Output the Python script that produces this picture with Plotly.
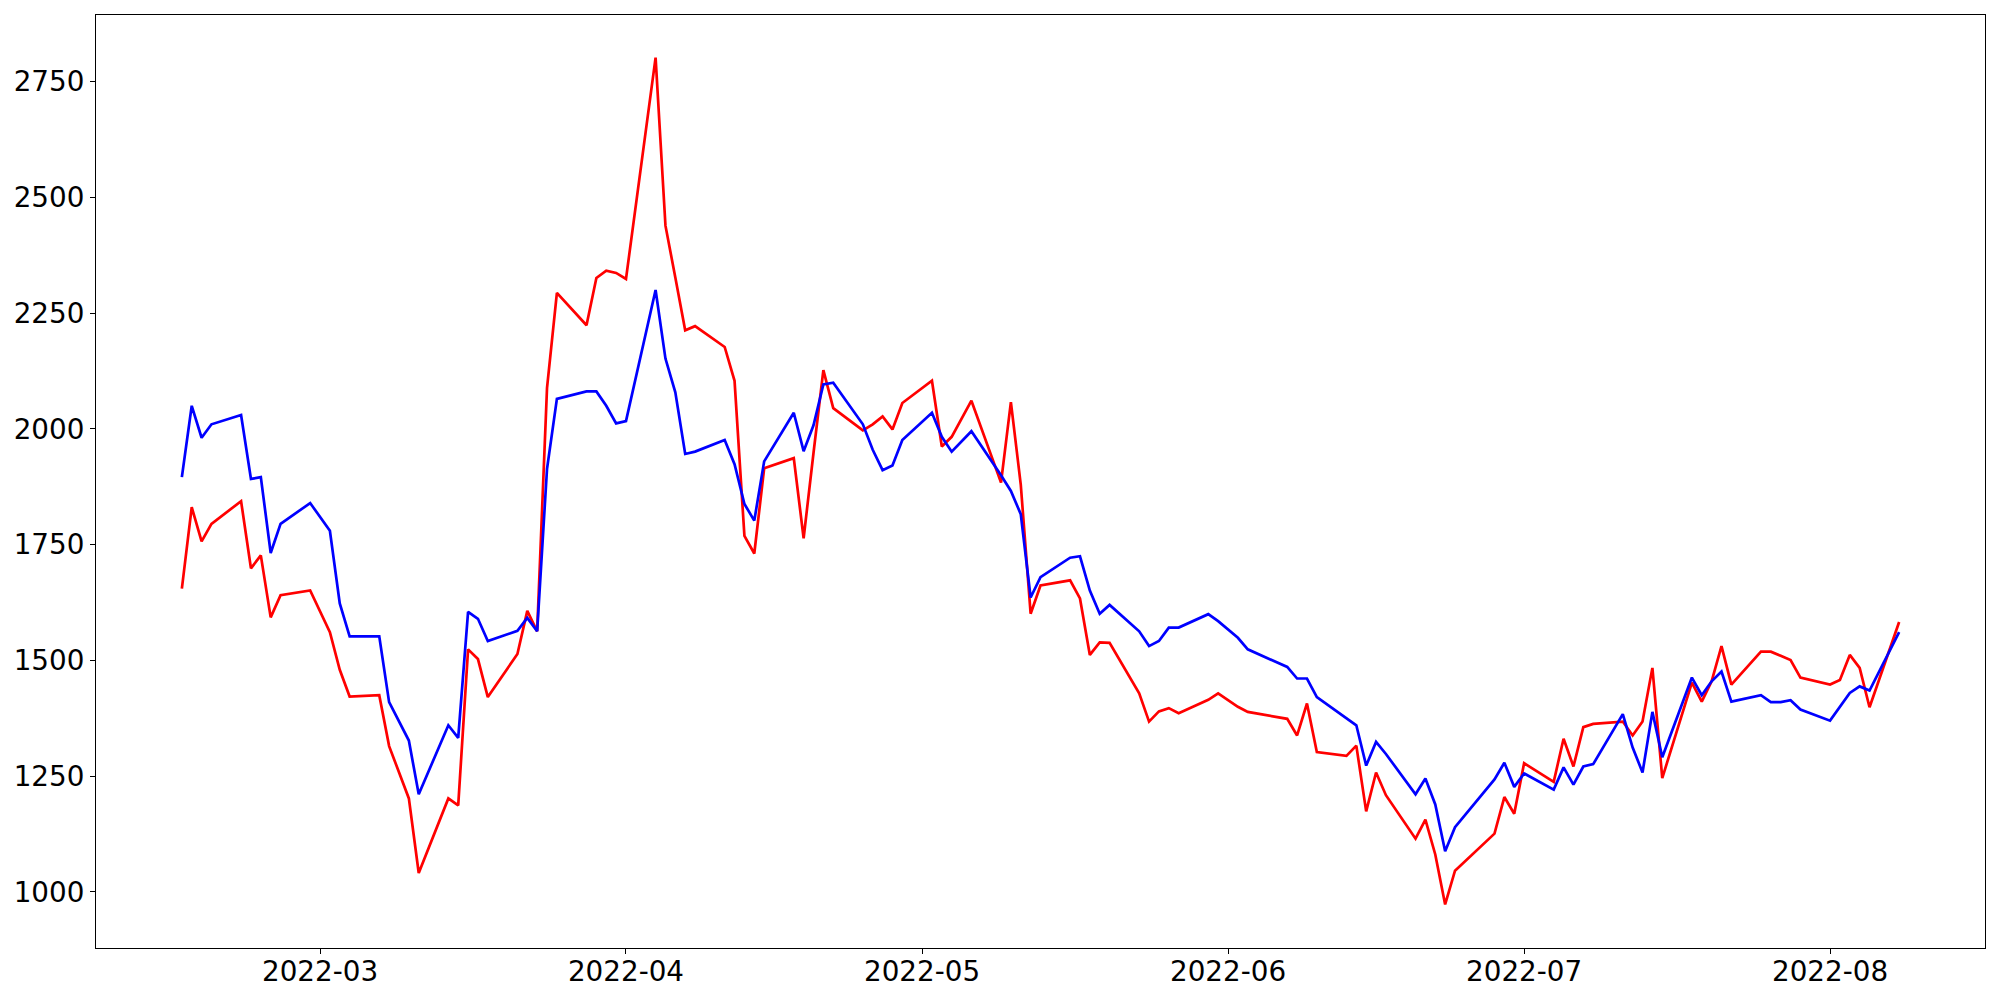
import plotly.graph_objects as go

dates = [
    "2022-02-15", "2022-02-16", "2022-02-17", "2022-02-18", "2022-02-21", "2022-02-22", "2022-02-23", "2022-02-24", "2022-02-25", "2022-02-28",
    "2022-03-02", "2022-03-03", "2022-03-04", "2022-03-07", "2022-03-08", "2022-03-10", "2022-03-11", "2022-03-14", "2022-03-15", "2022-03-16",
    "2022-03-17", "2022-03-18", "2022-03-21", "2022-03-22", "2022-03-23", "2022-03-24", "2022-03-25", "2022-03-28", "2022-03-29", "2022-03-30", "2022-03-31",
    "2022-04-01", "2022-04-04", "2022-04-05", "2022-04-06", "2022-04-07", "2022-04-08", "2022-04-11", "2022-04-12", "2022-04-13", "2022-04-14",
    "2022-04-15", "2022-04-18", "2022-04-19", "2022-04-20", "2022-04-21", "2022-04-22", "2022-04-25", "2022-04-26", "2022-04-27", "2022-04-28", "2022-04-29",
    "2022-05-02", "2022-05-03", "2022-05-04", "2022-05-06", "2022-05-09", "2022-05-10", "2022-05-11", "2022-05-12", "2022-05-13", "2022-05-16",
    "2022-05-17", "2022-05-18", "2022-05-19", "2022-05-20", "2022-05-23", "2022-05-24", "2022-05-25", "2022-05-26", "2022-05-27", "2022-05-30", "2022-05-31",
    "2022-06-02", "2022-06-03", "2022-06-07", "2022-06-08", "2022-06-09", "2022-06-10", "2022-06-13", "2022-06-14", "2022-06-15", "2022-06-16",
    "2022-06-17", "2022-06-20", "2022-06-21", "2022-06-22", "2022-06-23", "2022-06-24", "2022-06-28", "2022-06-29", "2022-06-30",
    "2022-07-01", "2022-07-04", "2022-07-05", "2022-07-06", "2022-07-07", "2022-07-08", "2022-07-11", "2022-07-12", "2022-07-13", "2022-07-14",
    "2022-07-15", "2022-07-18", "2022-07-19", "2022-07-20", "2022-07-21", "2022-07-22", "2022-07-25", "2022-07-26", "2022-07-27", "2022-07-28", "2022-07-29",
    "2022-08-01", "2022-08-02", "2022-08-03", "2022-08-04", "2022-08-05", "2022-08-08",
]

red_values = [
    1655, 1831, 1757, 1795, 1844, 1699, 1727, 1593, 1641, 1651,
    1561, 1480, 1422, 1425, 1315, 1202, 1041, 1202, 1187, 1524,
    1503, 1421, 1514, 1607, 1563, 2089, 2294, 2224, 2326, 2342, 2337,
    2324, 2802, 2439, 2327, 2213, 2222, 2177, 2104, 1769, 1731,
    1915, 1937, 1764, 1948, 2127, 2045, 1997, 2010, 2027, 1999, 2056,
    2104, 1962, 1983, 2061, 1884, 2058, 1880, 1601, 1662, 1673,
    1634, 1512, 1539, 1538, 1429, 1368, 1390, 1397, 1386, 1415, 1429,
    1400, 1389, 1374, 1338, 1407, 1302, 1294, 1316, 1174, 1258,
    1209, 1115, 1156, 1081, 973, 1046, 1126, 1205, 1169,
    1278, 1238, 1331, 1271, 1356, 1363, 1368, 1338, 1368, 1484,
    1246, 1452, 1411, 1455, 1531, 1448, 1519, 1519, 1510, 1501, 1463,
    1448, 1458, 1512, 1484, 1399, 1583,
]

blue_values = [
    1896, 2050, 1981, 2010, 2030, 1892, 1896, 1732, 1795, 1840,
    1780, 1623, 1552, 1552, 1410, 1327, 1211, 1360, 1333, 1605,
    1590, 1542, 1564, 1592, 1563, 1914, 2065, 2081, 2081, 2050, 2012,
    2017, 2300, 2152, 2079, 1946, 1951, 1976, 1924, 1838, 1802,
    1930, 2035, 1952, 2008, 2096, 2100, 2010, 1955, 1911, 1921, 1976,
    2035, 1983, 1951, 1995, 1900, 1866, 1816, 1636, 1680, 1722,
    1725, 1651, 1601, 1620, 1563, 1531, 1542, 1571, 1571, 1600, 1585,
    1549, 1524, 1486, 1461, 1461, 1421, 1375, 1360, 1273, 1324,
    1298, 1211, 1245, 1189, 1088, 1140, 1243, 1279, 1227,
    1256, 1221, 1269, 1232, 1271, 1276, 1384, 1312, 1258, 1389,
    1291, 1463, 1425, 1455, 1476, 1411, 1425, 1410, 1410, 1414, 1394,
    1370, 1401, 1430, 1444, 1435, 1561,
]

y_ticks = [1000, 1250, 1500, 1750, 2000, 2250, 2500, 2750]
x_ticks = ["2022-03-01", "2022-04-01", "2022-05-01", "2022-06-01", "2022-07-01", "2022-08-01"]
x_tick_labels = ["2022-03", "2022-04", "2022-05", "2022-06", "2022-07", "2022-08"]

fig = go.Figure()
fig.add_trace(go.Scatter(x=dates, y=red_values, mode="lines",
                         line=dict(color="#ff0000", width=2.7), showlegend=False))
fig.add_trace(go.Scatter(x=dates, y=blue_values, mode="lines",
                         line=dict(color="#0000ff", width=2.7), showlegend=False))

axis_common = dict(
    showgrid=False, zeroline=False, showline=True, mirror=True,
    linecolor="black", linewidth=1.1, ticks="outside", ticklen=5,
    tickwidth=1.1, tickcolor="black", automargin=False,
    tickfont=dict(family="DejaVu Sans", size=27.8, color="black"),
)

fig.update_layout(
    width=2000, height=1000,
    margin=dict(l=96, r=15, t=15, b=52, pad=0, autoexpand=False),
    paper_bgcolor="white", plot_bgcolor="white",
    xaxis=dict(range=["2022-02-06 07:12", "2022-08-16 16:48"],
               tickvals=x_ticks, ticktext=x_tick_labels,
               ticklabelstandoff=-6, **axis_common),
    yaxis=dict(range=[879, 2894], tickvals=y_ticks,
               ticktext=[str(v) for v in y_ticks], **axis_common),
)

fig.write_html("out.html", config={"displayModeBar": False},
               post_script="document.body.style.margin='0';")
